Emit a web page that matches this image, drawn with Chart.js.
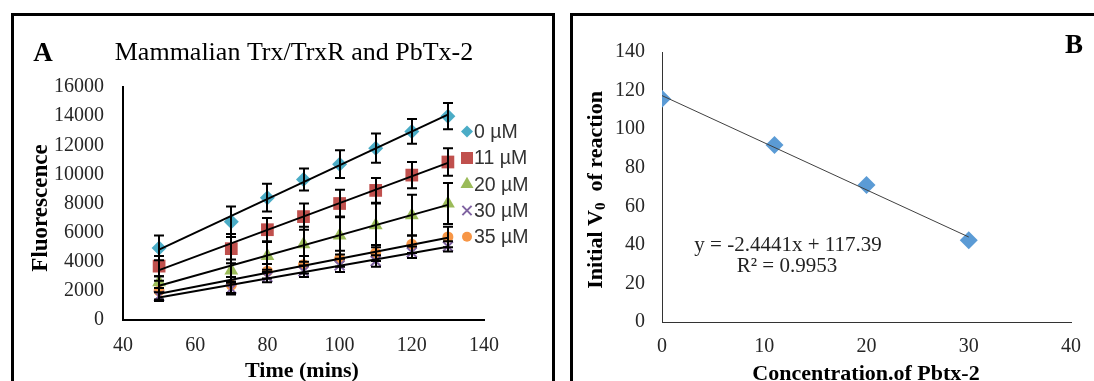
<!DOCTYPE html>
<html><head><meta charset="utf-8">
<script src="https://cdn.jsdelivr.net/npm/chart.js@4/dist/chart.umd.min.js"></script>
<style>
html,body{margin:0;padding:0;background:#fff;width:1094px;height:381px;overflow:hidden;position:relative}
.box{position:absolute;border:3px solid #000;box-sizing:border-box}
canvas{position:absolute;top:0}
</style></head><body>
<div class="box" style="left:11px;top:13px;width:544px;height:420px"></div>
<div class="box" style="left:570px;top:13px;width:560px;height:420px"></div>
<canvas id="cA" width="560" height="381" style="left:0"></canvas>
<canvas id="cB" width="534" height="381" style="left:560px"></canvas>
<script>
// ---------- Panel A data ----------
const timeMins = [50, 70, 80, 90, 100, 110, 120, 130];
const seriesLabels = ['0 µM', '11 µM', '20 µM', '30 µM', '35 µM'];
const fluor0uM  = [4950, 6750, 8400, 9650, 10700, 11800, 12950, 14000];
const fluor11uM = [3700, 4900, 6200, 7100, 8000, 8900, 9950, 10850];
const fluor20uM = [2600, 3400, 4400, 5200, 5800, 6500, 7200, 8000];
const fluor30uM = [1650, 2150, 2950, 3350, 3750, 4050, 4650, 5050];
const fluor35uM = [2000, 2400, 3350, 3800, 4200, 4600, 5200, 5700];
const err0uM  = [850, 1050, 950, 750, 950, 1000, 850, 900];
const err11uM = [700, 1000, 800, 900, 950, 850, 900, 950];
const err20uM = [400, 750, 950, 1200, 1300, 1500, 1400, 1400];
const err30uM = [250, 400, 350, 400, 450, 400, 400, 350];
const err35uM = [700, 550, 500, 600, 550, 550, 600, 700];
const xTicksA = [40, 60, 80, 100, 120, 140];
const yTicksA = [0, 2000, 4000, 6000, 8000, 10000, 12000, 14000, 16000];

// ---------- Panel B data ----------
const pbtxConc = [0, 11, 20, 30];
const initialV0 = [115.7, 91.8, 71.0, 42.4];
const fitSlopeB = -2.4441;
const fitInterceptB = 117.39;
const fitR2B = 0.9953;
const xTicksB = [0, 10, 20, 30, 40];
const yTicksB = [0, 20, 40, 60, 80, 100, 120, 140];

// ---------- styles ----------
const SERIF = "'Liberation Serif', 'Times New Roman', serif";
const SANS = "'Liberation Sans', Arial, sans-serif";
const TICK = '#262626';
const seriesY = [fluor0uM, fluor11uM, fluor20uM, fluor30uM, fluor35uM];
const seriesErr = [err0uM, err11uM, err20uM, err30uM, err35uM];
const seriesColor = ['#4BACC6', '#C0504D', '#9BBB59', '#8064A2', '#F79646'];
const seriesStyle = ['rectRot', 'rect', 'triangle', 'crossRot', 'circle'];
const seriesRadius = [7.5, 9, 8, 7, 5.5];

function linFit(xs, ys) {
  const n = xs.length;
  const mx = xs.reduce((a, b) => a + b, 0) / n;
  const my = ys.reduce((a, b) => a + b, 0) / n;
  let sxy = 0, sxx = 0;
  for (let i = 0; i < n; i++) { sxy += (xs[i] - mx) * (ys[i] - my); sxx += (xs[i] - mx) ** 2; }
  const m = sxy / sxx;
  return { m, b: my - m * mx };
}

function drawMarker(ctx, style, x, y, r, color) {
  ctx.save();
  ctx.fillStyle = color; ctx.strokeStyle = color;
  ctx.beginPath();
  if (style === 'rectRot') {
    ctx.moveTo(x, y - r); ctx.lineTo(x + r, y); ctx.lineTo(x, y + r); ctx.lineTo(x - r, y); ctx.closePath(); ctx.fill();
  } else if (style === 'rect') {
    const s = r * Math.SQRT1_2; ctx.rect(x - s, y - s, 2 * s, 2 * s); ctx.fill();
  } else if (style === 'triangle') {
    ctx.moveTo(x, y - r); ctx.lineTo(x + r * 0.866, y + r * 0.5); ctx.lineTo(x - r * 0.866, y + r * 0.5); ctx.closePath(); ctx.fill();
  } else if (style === 'crossRot') {
    const s = r * Math.SQRT1_2; ctx.lineWidth = 2;
    ctx.moveTo(x - s, y - s); ctx.lineTo(x + s, y + s); ctx.moveTo(x + s, y - s); ctx.lineTo(x - s, y + s); ctx.stroke();
  } else {
    ctx.arc(x, y, r, 0, Math.PI * 2); ctx.fill();
  }
  ctx.restore();
}

// ---------- Panel A ----------
const dsA = [];
seriesY.forEach((ys, i) => {
  dsA.push({
    label: seriesLabels[i],
    data: timeMins.map((t, j) => ({ x: t, y: ys[j] })),
    pointStyle: seriesStyle[i],
    pointRadius: seriesRadius[i],
    pointBackgroundColor: seriesColor[i],
    pointBorderColor: seriesColor[i],
    pointBorderWidth: seriesStyle[i] === 'crossRot' ? 2 : 0,
    showLine: false,
    order: 2
  });
});
seriesY.forEach((ys, i) => {
  const f = linFit(timeMins, ys);
  const x0 = timeMins[0], x1 = timeMins[timeMins.length - 1];
  dsA.push({
    label: 'fit ' + seriesLabels[i],
    data: [{ x: x0, y: f.m * x0 + f.b }, { x: x1, y: f.m * x1 + f.b }],
    showLine: true, borderColor: '#000', borderWidth: 2, pointRadius: 0, order: 1
  });
});

const panelAPlugin = {
  id: 'panelA',
  afterDatasetsDraw(chart) {
    const ctx = chart.ctx, xs = chart.scales.x, ys = chart.scales.y;
    ctx.save();
    ctx.strokeStyle = '#000'; ctx.lineWidth = 2;
    seriesY.forEach((vals, i) => {
      vals.forEach((v, j) => {
        const px = Math.round(xs.getPixelForValue(timeMins[j]));
        const top = ys.getPixelForValue(v + seriesErr[i][j]);
        const bot = ys.getPixelForValue(v - seriesErr[i][j]);
        ctx.beginPath();
        ctx.moveTo(px, top); ctx.lineTo(px, bot);
        ctx.moveTo(px - 5, top); ctx.lineTo(px + 5, top);
        ctx.moveTo(px - 5, bot); ctx.lineTo(px + 5, bot);
        ctx.stroke();
      });
    });
    ctx.restore();
  },
  afterDraw(chart) {
    const ctx = chart.ctx;
    ctx.save();
    ctx.fillStyle = '#000';
    ctx.textAlign = 'center'; ctx.textBaseline = 'middle';
    ctx.font = 'bold 27px ' + SERIF;
    ctx.fillText('A', 43, 54);
    ctx.font = '26px ' + SERIF;
    ctx.fillText('Mammalian Trx/TrxR and PbTx-2', 294, 53);
    ctx.font = 'bold 22px ' + SERIF;
    ctx.fillText('Time (mins)', 302, 371);
    ctx.save();
    ctx.translate(41, 208); ctx.rotate(-Math.PI / 2);
    ctx.font = 'bold 23px ' + SERIF;
    ctx.fillText('Fluorescence', 0, 0);
    ctx.restore();
    // legend
    const ly = [131.5, 158, 184.3, 210.5, 236.7];
    ctx.textAlign = 'left';
    ctx.font = '19.5px ' + SANS;
    ctx.fillStyle = '#333';
    seriesLabels.forEach((lab, i) => {
      const r = [6, 8.5, 7.5, 6.5, 5][i];
      drawMarker(ctx, seriesStyle[i], 467, ly[i], r, seriesColor[i]);
      ctx.fillText(lab, 474, ly[i] + 1);
    });
    ctx.restore();
  }
};

new Chart(document.getElementById('cA'), {
  type: 'scatter',
  data: { datasets: dsA },
  options: {
    responsive: false, animation: false, devicePixelRatio: 1,
    layout: { padding: { left: 0, top: 87, right: 76, bottom: 0 } },
    plugins: { legend: { display: false }, tooltip: { enabled: false } },
    scales: {
      x: {
        type: 'linear', min: xTicksA[0], max: xTicksA[xTicksA.length - 1],
        afterBuildTicks: s => { s.ticks = xTicksA.map(v => ({ value: v })); },
        afterFit: s => { s.height = 61; },
        grid: { display: false, drawTicks: false },
        border: { display: true, color: '#000', width: 2 },
        ticks: { padding: 14, color: TICK, font: { family: SERIF, size: 20 } }
      },
      y: {
        type: 'linear', min: yTicksA[0], max: yTicksA[yTicksA.length - 1],
        afterBuildTicks: s => { s.ticks = yTicksA.map(v => ({ value: v })); },
        afterFit: s => { s.width = 123; },
        grid: { display: false, drawTicks: false },
        border: { display: true, color: '#000', width: 2 },
        ticks: { padding: 19, color: TICK, font: { family: SERIF, size: 20 }, callback: v => String(v) }
      }
    }
  },
  plugins: [panelAPlugin]
});

// ---------- Panel B ----------
const panelBPlugin = {
  id: 'panelB',
  afterDraw(chart) {
    const ctx = chart.ctx;
    ctx.save();
    ctx.fillStyle = '#000';
    ctx.textAlign = 'center'; ctx.textBaseline = 'middle';
    ctx.font = 'bold 27px ' + SERIF;
    ctx.fillText('B', 514, 46);
    ctx.font = '21px ' + SERIF;
    ctx.fillStyle = '#222';
    ctx.fillText('y = ' + fitSlopeB + 'x + ' + fitInterceptB, 228, 245);
    ctx.fillText('R² = ' + fitR2B, 227, 266);
    ctx.fillStyle = '#000';
    ctx.font = 'bold 22px ' + SERIF;
    ctx.fillText('Concentration.of Pbtx-2', 306, 374);
    // rotated y title with subscript
    ctx.save();
    ctx.translate(36, 190); ctx.rotate(-Math.PI / 2);
    ctx.textAlign = 'left';
    const big = 'bold 22px ' + SERIF, small = 'bold 15px ' + SERIF;
    ctx.font = big; const w1 = ctx.measureText('Initial V').width;
    ctx.font = small; const w2 = ctx.measureText('0').width;
    ctx.font = big; const w3 = ctx.measureText('  of reaction').width;
    let x = -(w1 + w2 + w3) / 2;
    ctx.font = big; ctx.fillText('Initial V', x, 0); x += w1;
    ctx.font = small; ctx.fillText('0', x, 5); x += w2;
    ctx.font = big; ctx.fillText('  of reaction', x, 0);
    ctx.restore();
    ctx.restore();
  }
};

new Chart(document.getElementById('cB'), {
  type: 'scatter',
  data: {
    datasets: [
      {
        label: 'Initial V0',
        data: pbtxConc.map((c, i) => ({ x: c, y: initialV0[i] })),
        pointStyle: 'rectRot', pointRadius: 9, pointBackgroundColor: '#5B9BD5', pointBorderWidth: 0,
        showLine: false, order: 2
      },
      {
        label: 'Linear fit',
        data: [
          { x: pbtxConc[0], y: fitSlopeB * pbtxConc[0] + fitInterceptB },
          { x: pbtxConc[pbtxConc.length - 1], y: fitSlopeB * pbtxConc[pbtxConc.length - 1] + fitInterceptB }
        ],
        showLine: true, borderColor: '#404040', borderWidth: 1, pointRadius: 0, order: 1
      }
    ]
  },
  options: {
    responsive: false, animation: false, devicePixelRatio: 1,
    layout: { padding: { left: 0, top: 52, right: 17, bottom: 0 } },
    plugins: { legend: { display: false }, tooltip: { enabled: false } },
    scales: {
      x: {
        type: 'linear', min: xTicksB[0], max: xTicksB[xTicksB.length - 1],
        afterBuildTicks: s => { s.ticks = xTicksB.map(v => ({ value: v })); },
        afterFit: s => { s.height = 59; },
        grid: { display: false, drawTicks: false },
        border: { display: true, color: '#333', width: 1 },
        ticks: { padding: 13, color: TICK, font: { family: SERIF, size: 20 } }
      },
      y: {
        type: 'linear', min: yTicksB[0], max: yTicksB[yTicksB.length - 1],
        afterBuildTicks: s => { s.ticks = yTicksB.map(v => ({ value: v })); },
        afterFit: s => { s.width = 102; },
        grid: { display: false, drawTicks: false },
        border: { display: true, color: '#333', width: 1 },
        ticks: { padding: 17, color: TICK, font: { family: SERIF, size: 20 } }
      }
    }
  },
  plugins: [panelBPlugin]
});
</script>
</body></html>
